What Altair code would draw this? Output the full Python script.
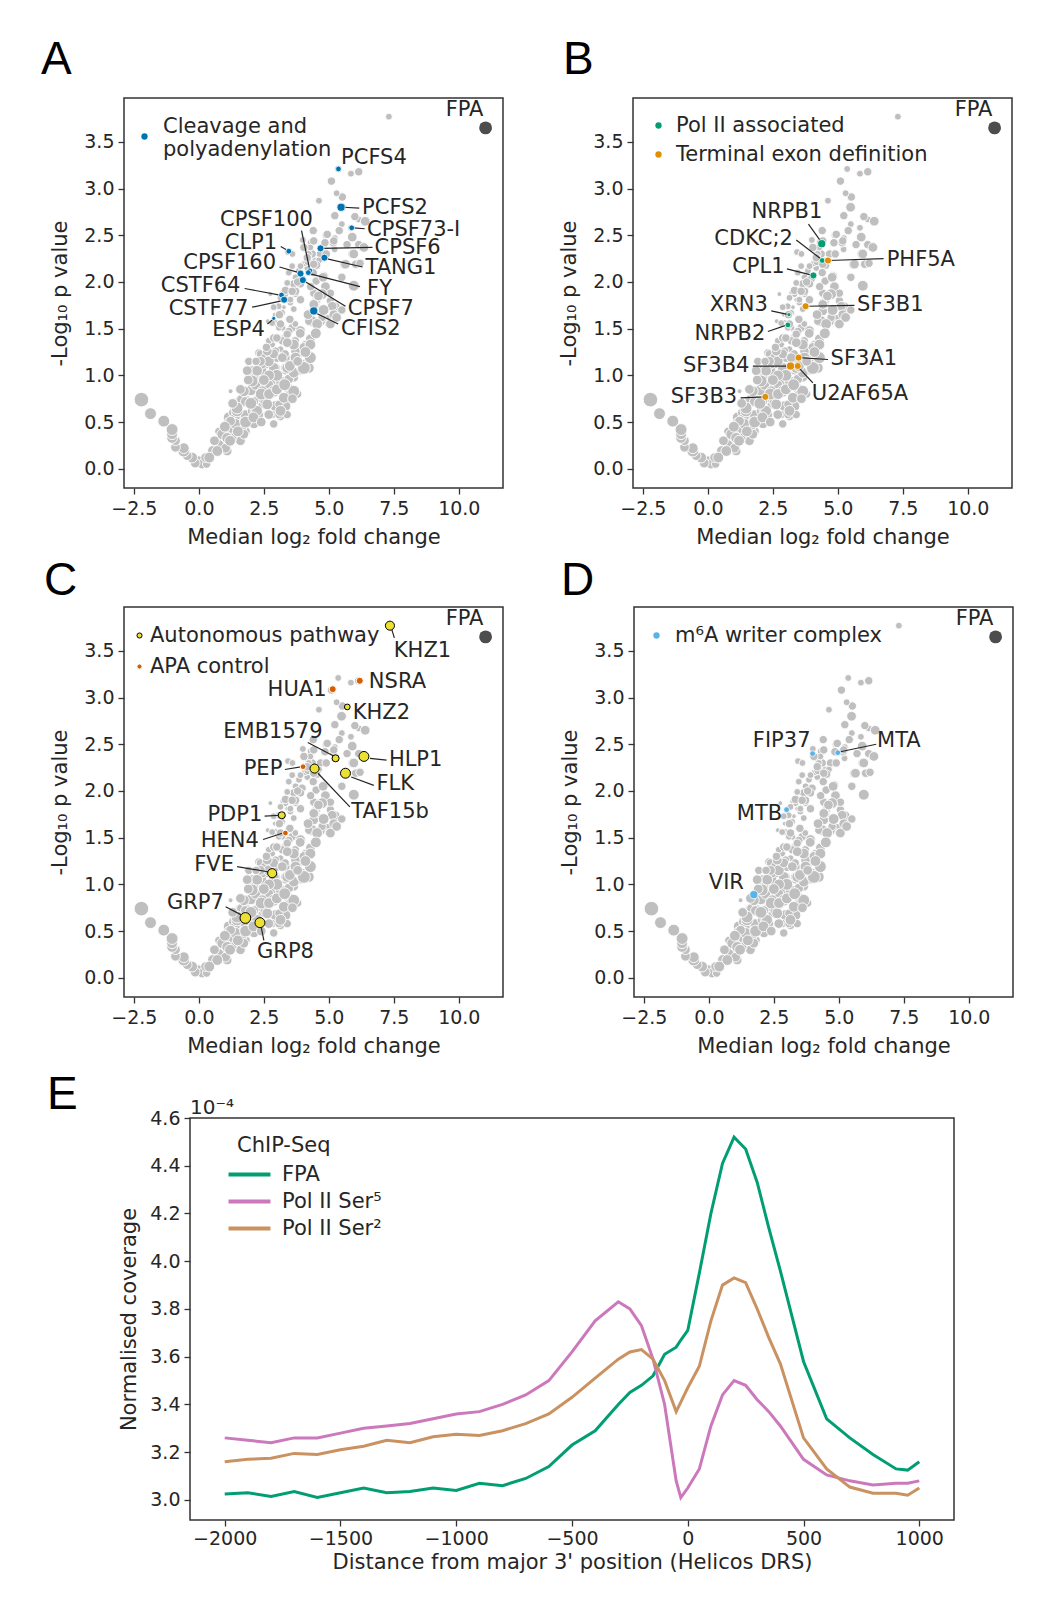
import altair as alt
import pandas as pd

FONT = "DejaVu Sans"
LETTER_FONT = "Liberation Sans"
INK = "#262626"

# ---------------- background proteins: median log2 FC, -log10 p, peptide count
bg_fc = [7.31, 5.36, 5.85, 6.15, 5.10, 4.62, 5.52, 5.49, 5.23, 6.15, 6.40, 5.50, 5.85, 4.87, 5.23, 5.90,
         6.31, 6.15, 5.22, 5.92, 5.60, 5.96, 4.33, 4.10, 4.36, 4.68, 4.49, 4.23, 4.62, 4.81, 4.51, 4.17,
         3.85, 4.08, 3.46, 3.72, 3.43, 3.59, 3.91, 4.29, 2.75, 3.33, 3.72, 3.52, 3.21, 3.40, 3.27, 2.92,
         2.65, 2.95, 3.21, 3.59, 3.27, 3.65, 2.82, 3.14, 4.49, 4.62, 4.42, 5.06, 5.23, 4.97, 4.36, 5.06,
         4.74, 4.29, 4.10, 4.28, 3.97, 4.23, 3.74, 3.71, 3.46, 3.08, 2.82, 3.71, 4.23, 4.48, 4.74, 5.00,
         5.13, 3.33, 3.01, 3.32, 2.69, 2.31, 2.69, 3.65, 3.91, 3.33, 2.95, 2.95, 2.56, 2.37, 2.18, 2.05,
         2.43, 2.12, 2.31, 2.56, 2.69, 3.33, 2.95, 3.14, 2.82, 2.44, 2.31, 3.08, 2.31, 1.86, 1.41, 1.60,
         1.22, 1.54, 1.79, 1.15, 1.03, 0.77, 1.09, 0.90, 1.03, 1.15, 1.35, 1.47, 1.73, 1.40, 1.78, 1.92,
         2.05, 0.54, 0.19, 0.00, 0.13, -0.14, -0.26, -0.45, -0.58, -0.58, -0.90, -0.90, -1.03, -1.03,
         -1.03, -1.35, -1.86, -2.21, 0.30, 0.85, 1.60, 2.05, 2.60, 3.50, 3.80,
         1.28, 1.47, 1.66, 1.35, 0.90, 0.77, 0.26, 2.00, 2.18, 2.44, 2.56, 2.88, 3.14, 3.46, 3.65, 3.97,
         3.72, 4.04, 2.95, 3.21, 2.56, 2.43, 2.24, 2.88, 3.33, 3.52, 3.33, 2.69, 2.18, 1.92, 1.66, 1.28,
         1.03, 1.79, 2.11, 3.08, 3.40,
         4.20, 4.53, 4.40, 4.78, 3.97, 3.65, 3.33, 3.72, 3.91, 4.42, 4.87, 5.06, 6.03, 5.17, 4.85, 3.52,
         3.07, 3.20, 3.65,
         2.05, 1.73, 1.47, 1.41, 1.09, 0.71, 2.24, 2.69, 2.88, 3.21, 3.40, 3.72, 4.04, 4.29, 3.65, 4.29,
         3.91, 4.55, 5.19, 5.06, 4.42, 4.74, 5.96, 5.64, 5.96, 6.35, 5.19, 4.94, 4.42, 4.04, 4.17, 4.42,
         3.91, 3.59, 3.40, 3.14, 2.88, 3.14, 3.40, 2.88, 2.63, 2.37, 1.86, 2.24, 2.63, 3.14, 3.27, 3.65,
         2.88, 2.12, 1.73, 1.22,
         1.20, 1.50, 1.80, 2.10, 2.40, 2.00, 2.40, 2.70, 3.00, 3.30, 3.60, 3.00, 2.70, 2.50, 3.50, 3.80,
         4.10, 3.40, 3.90, 4.50, 4.80, 4.60, 5.30, 5.50, 4.20, 3.10, 3.50, 1.00, 0.60, 0.40, 1.30, 1.60,
         1.90, 2.20, 2.60, 3.00,
         4.40, 4.90, 5.40, 5.70, 6.00, 5.30, 4.00, 3.60, 3.80, 4.30, 5.50, 6.20]
bg_p = [3.77, 3.21, 3.16, 3.18, 3.08, 2.87, 2.91, 2.80, 2.71, 2.67, 2.65, 2.62, 2.58, 2.50, 2.47, 2.48,
        2.37, 2.40, 2.35, 2.30, 2.19, 1.96, 2.42, 2.35, 2.30, 2.30, 2.22, 2.30, 2.23, 2.06, 2.01, 2.15,
        2.12, 2.20, 2.10, 2.05, 2.32, 2.17, 2.17, 2.37, 1.87, 1.87, 1.87, 1.78, 1.89, 1.81, 1.73, 1.65,
        1.58, 1.56, 1.51, 1.51, 1.40, 1.31, 1.33, 1.28, 1.78, 1.71, 1.69, 1.80, 1.73, 1.60, 1.58, 1.53,
        1.58, 1.39, 1.33, 1.21, 1.12, 1.08, 1.20, 1.37, 1.47, 1.51, 1.56, 1.55, 1.58, 1.76, 1.62, 1.55,
        1.74, 1.19, 1.19, 1.23, 1.37, 1.24, 1.12, 0.98, 1.05, 1.05, 1.08, 0.92, 1.12, 1.23, 0.96, 1.05,
        1.05, 0.97, 0.83, 0.87, 0.90, 0.73, 0.67, 0.56, 0.58, 0.69, 0.58, 0.58, 0.76, 0.73, 0.58, 0.73,
        0.83, 0.48, 0.40, 0.55, 0.33, 0.40, 0.19, 0.33, 0.40, 0.49, 0.60, 0.67, 0.72, 0.55, 0.58, 1.15,
        0.85, 0.19, 0.08, 0.08, 0.05, 0.06, 0.12, 0.14, 0.19, 0.22, 0.23, 0.30, 0.33, 0.37,
        0.42, 0.51, 0.59, 0.74, 0.05, 0.25, 0.30, 0.62, 0.72, 0.85, 0.80,
        0.49, 0.62, 0.74, 0.42, 0.37, 0.26, 0.12, 0.84, 0.90, 0.83, 0.72, 0.83, 0.94, 0.96, 1.03, 1.08,
        1.26, 1.30, 1.26, 1.37, 1.19, 1.12, 1.05, 1.08, 1.08, 0.80, 0.67, 0.58, 0.62, 0.51, 0.44, 0.33,
        0.22, 0.72, 0.72, 0.69, 0.58,
        2.22, 2.18, 2.10, 2.05, 2.03, 1.98, 1.91, 1.90, 1.81, 1.88, 1.95, 1.88, 2.19, 2.42, 2.42, 1.81,
        1.74, 1.67, 1.71,
        0.94, 0.83, 0.65, 0.48, 0.33, 0.19, 1.05, 1.15, 1.23, 1.19, 1.08, 1.19, 1.08, 1.19, 1.33, 1.33,
        1.48, 1.55, 1.65, 1.55, 1.76, 1.87, 1.96, 2.19, 2.30, 2.37, 2.44, 2.51, 2.44, 2.37, 2.26, 2.19,
        1.98, 1.90, 1.99, 1.83, 1.73, 1.55, 1.44, 1.40, 1.26, 1.15, 1.05, 0.62, 0.69, 0.62, 0.76, 0.83,
        0.48, 0.48, 0.37, 0.51,
        0.30, 0.40, 0.50, 0.55, 0.50, 0.70, 0.80, 0.80, 0.85, 0.90, 0.75, 1.00, 1.00, 0.95, 1.10, 1.15,
        1.25, 1.35, 1.45, 1.45, 1.70, 1.85, 1.62, 1.70, 1.65, 1.65, 1.60, 0.45, 0.30, 0.12, 0.70, 0.85,
        0.95, 1.15, 1.30, 1.40,
        2.55, 2.30, 2.55, 2.40, 2.70, 2.95, 2.45, 2.30, 2.00, 1.95, 2.05, 2.20]
bg_n = [2, 2, 2, 3, 3, 2, 3, 4, 3, 2, 4, 2, 2, 2, 2, 4,
        4, 3, 2, 4, 4, 4, 3, 2, 3, 3, 3, 2, 2, 4, 3, 2,
        2, 2, 2, 2, 2, 2, 2, 2, 1, 2, 2, 2, 1, 1, 1, 1,
        1, 2, 2, 3, 2, 3, 2, 2, 4, 3, 4, 3, 5, 4, 5, 2,
        3, 4, 3, 4, 4, 5, 6, 3, 3, 2, 2, 2, 3, 3, 3, 3,
        4, 4, 4, 3, 2, 3, 4, 4, 3, 3, 4, 6, 4, 3, 5, 4,
        4, 4, 4, 4, 4, 4, 5, 3, 3, 3, 4, 3, 4, 4, 7, 5,
        1, 5, 4, 5, 5, 3, 4, 4, 4, 5, 5, 4, 5, 4, 4, 3,
        4, 5, 4, 5, 4, 4, 5, 4, 6, 5, 4, 4, 5, 5,
        6, 6, 6, 9, 3, 4, 4, 4, 4, 5, 3,
        6, 6, 5, 5, 5, 4, 4, 5, 5, 5, 5, 6, 5, 4, 5, 5,
        4, 4, 3, 3, 4, 4, 4, 5, 4, 4, 5, 4, 5, 4, 4, 4,
        4, 4, 4, 3, 3,
        3, 3, 3, 4, 3, 3, 3, 3, 3, 3, 4, 3, 3, 3, 3, 2,
        2, 2, 2,
        6, 5, 6, 5, 5, 5, 5, 5, 4, 4, 5, 5, 7, 6, 5, 5,
        4, 5, 4, 4, 4, 5, 5, 4, 4, 4, 3, 3, 3, 3, 3, 3,
        3, 3, 2, 2, 2, 3, 3, 3, 4, 4, 4, 5, 5, 5, 5, 6,
        3, 4, 4, 4,
        5, 5, 6, 5, 4, 6, 6, 5, 5, 6, 4, 6, 5, 5, 5, 4,
        5, 4, 4, 5, 5, 4, 4, 3, 4, 3, 3, 5, 4, 5, 4, 4,
        4, 3, 3, 3,
        3, 3, 3, 3, 3, 2, 2, 2, 3, 3, 3, 3]

fpa_fc, fpa_p, fpa_n = [11.03], [3.65], [7]

# ---------------- highlighted proteins per panel
A_names = ["PCFS4", "PCFS2", "CPSF73-I", "CPSF6", "TANG1", "CPSF100", "CLP1", "CPSF160", "FY",
           "CSTF64", "CSTF77", "ESP4", "CPSF7", "CFIS2"]
A_fc = [5.37, 5.47, 5.88, 4.68, 4.83, 4.27, 3.46, 3.91, 4.21, 3.18, 3.28, 2.88, 4.00, 4.42]
A_p = [3.21, 2.80, 2.58, 2.36, 2.26, 2.12, 2.33, 2.09, 2.10, 1.86, 1.81, 1.61, 2.02, 1.69]
A_n = [2, 4, 2, 3, 3, 2, 2, 3, 2, 2, 3, 1, 3, 4]
A_group = ["Cleavage and polyadenylation"] * 14

B_names = ["NRPB1", "CDKC;2", "CPL1", "XRN3", "NRPB2",
           "PHF5A", "SF3B1", "SF3A1", "SF3B4", "U2AF65A", "SF3B3"]
B_fc = [4.38, 4.40, 4.06, 3.12, 3.08, 4.62, 3.76, 3.49, 3.18, 3.46, 2.21]
B_p = [2.41, 2.23, 2.07, 1.65, 1.54, 2.23, 1.74, 1.19, 1.10, 1.10, 0.77]
B_n = [4, 2, 3, 1, 2, 3, 3, 3, 4, 3, 3]
B_group = ["Pol II associated"] * 5 + ["Terminal exon definition"] * 6

C_names = ["KHZ1", "KHZ2", "EMB1579", "HLP1", "FLK", "TAF15b", "PDP1", "FVE", "GRP7", "GRP8",
           "HUA1", "NSRA", "PEP", "HEN4"]
C_fc = [7.35, 5.71, 5.26, 6.35, 5.64, 4.45, 3.19, 2.82, 1.79, 2.35, 5.15, 6.19, 4.01, 3.33]
C_p = [3.77, 2.90, 2.35, 2.37, 2.19, 2.24, 1.74, 1.12, 0.64, 0.59, 3.09, 3.18, 2.26, 1.55]
C_n = [5, 2, 3, 6, 6, 5, 3, 5, 7, 6, 3, 3, 2, 2]
C_group = ["Autonomous pathway"] * 10 + ["APA control"] * 4

D_names = ["FIP37", "MTA", "MTB", "VIR"]
D_fc = [3.99, 4.96, 2.99, 1.73]
D_p = [2.40, 2.41, 1.80, 0.89]
D_n = [2, 2, 2, 4]
D_group = ["m⁶A writer complex"] * 4

# ---------------- annotation layout (label anchor, alignment, leader line)
A_labels = [
    ("PCFS4", 5.47, 3.33, "left", None),
    ("PCFS2", 6.28, 2.79, "left", (5.55, 2.80, 6.17, 2.79)),
    ("CPSF73-I", 6.47, 2.56, "left", (5.95, 2.58, 6.38, 2.57)),
    ("CPSF6", 6.76, 2.36, "left", (4.75, 2.36, 6.68, 2.37)),
    ("TANG1", 6.41, 2.15, "left", (4.90, 2.25, 6.30, 2.16)),
    ("CPSF100", 2.60, 2.66, "center", (3.95, 2.55, 4.25, 2.15)),
    ("CLP1", 3.01, 2.42, "right", (3.15, 2.38, 3.40, 2.34)),
    ("CPSF160", 2.97, 2.20, "right", (3.10, 2.16, 3.85, 2.10)),
    ("FY", 6.47, 1.92, "left", (6.20, 1.95, 4.25, 2.09)),
    ("CSTF64", 1.60, 1.96, "right", (1.76, 1.93, 3.12, 1.86)),
    ("CSTF77", 1.90, 1.71, "right", (2.05, 1.73, 3.22, 1.80)),
    ("ESP4", 2.54, 1.49, "right", (2.64, 1.55, 2.85, 1.60)),
    ("CPSF7", 5.73, 1.71, "left", (5.64, 1.74, 4.05, 2.01)),
    ("CFIS2", 5.47, 1.50, "left", (5.36, 1.55, 4.48, 1.67)),
]
B_labels = [
    ("NRPB1", 3.04, 2.75, "center", (3.87, 2.62, 4.36, 2.43)),
    ("CDKC;2", 3.27, 2.46, "right", (3.40, 2.45, 4.38, 2.24)),
    ("CPL1", 2.95, 2.16, "right", (3.04, 2.14, 4.03, 2.07)),
    ("PHF5A", 6.88, 2.24, "left", (4.65, 2.23, 6.76, 2.25)),
    ("SF3B1", 5.74, 1.75, "left", (3.79, 1.74, 5.64, 1.75)),
    ("XRN3", 2.31, 1.75, "right", (2.44, 1.69, 3.10, 1.65)),
    ("NRPB2", 2.21, 1.44, "right", (2.31, 1.47, 3.05, 1.54)),
    ("SF3A1", 4.72, 1.17, "left", (3.52, 1.19, 4.62, 1.17)),
    ("SF3B4", 1.60, 1.10, "right", (1.73, 1.10, 3.15, 1.10)),
    ("U2AF65A", 4.00, 0.80, "left", (3.50, 1.08, 4.04, 0.92)),
    ("SF3B3", 1.13, 0.77, "right", (1.26, 0.76, 2.18, 0.77)),
]
C_labels = [
    ("KHZ1", 7.50, 3.50, "left", (7.42, 3.73, 7.52, 3.64)),
    ("NSRA", 6.54, 3.17, "left", None),
    ("HUA1", 4.91, 3.08, "right", None),
    ("KHZ2", 5.92, 2.84, "left", None),
    ("EMB1579", 2.85, 2.63, "center", (4.19, 2.52, 5.22, 2.37)),
    ("HLP1", 7.31, 2.33, "left", (6.58, 2.35, 7.22, 2.33)),
    ("FLK", 6.83, 2.08, "left", (5.86, 2.15, 6.73, 2.06)),
    ("PEP", 3.21, 2.24, "right", (3.31, 2.23, 3.98, 2.26)),
    ("TAF15b", 5.86, 1.77, "left", (4.58, 2.19, 5.81, 1.83)),
    ("PDP1", 2.44, 1.74, "right", (2.53, 1.73, 3.15, 1.74)),
    ("HEN4", 2.31, 1.46, "right", (2.47, 1.48, 3.24, 1.55)),
    ("FVE", 1.35, 1.21, "right", (1.47, 1.19, 2.75, 1.13)),
    ("GRP7", 0.96, 0.80, "right", (1.03, 0.76, 1.72, 0.66)),
    ("GRP8", 2.24, 0.28, "left", (2.40, 0.54, 2.50, 0.40)),
]
D_labels = [
    ("FIP37", 3.91, 2.53, "right", None),
    ("MTA", 6.47, 2.54, "left", (5.06, 2.42, 6.44, 2.50)),
    ("MTB", 2.82, 1.75, "right", None),
    ("VIR", 1.35, 1.01, "right", None),
]
FPA_label = ("FPA", 10.22, 3.84, "center", None)

# ---------------- panel E: ChIP-seq metagene profiles (x 1e-4)
E_pos = [-2000, -1900, -1800, -1700, -1600, -1500, -1400, -1300, -1200, -1100, -1000, -900, -800,
         -700, -600, -500, -400, -300, -250, -200, -150, -100, -50, -30, 0, 50, 100, 150, 200, 250,
         300, 350, 400, 500, 600, 700, 800, 900, 950, 1000]
E_fpa = [3.025, 3.03, 3.015, 3.035, 3.01, 3.03, 3.05, 3.03, 3.035, 3.05, 3.04, 3.07, 3.06,
         3.09, 3.14, 3.23, 3.29, 3.40, 3.45, 3.48, 3.52, 3.61, 3.64, 3.67, 3.71, 3.95, 4.20, 4.41,
         4.52, 4.47, 4.33, 4.14, 3.96, 3.58, 3.34, 3.26, 3.19, 3.13, 3.125, 3.16]
E_ser5 = [3.26, 3.25, 3.24, 3.26, 3.26, 3.28, 3.30, 3.31, 3.32, 3.34, 3.36, 3.37, 3.40,
          3.44, 3.50, 3.62, 3.75, 3.83, 3.80, 3.73, 3.59, 3.40, 3.08, 3.01, 3.05, 3.13, 3.31, 3.44,
          3.50, 3.48, 3.42, 3.37, 3.31, 3.17, 3.105, 3.08, 3.063, 3.07, 3.07, 3.08]
E_ser2 = [3.16, 3.17, 3.175, 3.195, 3.19, 3.21, 3.225, 3.25, 3.24, 3.265, 3.275, 3.27, 3.29,
          3.32, 3.36, 3.43, 3.51, 3.59, 3.62, 3.63, 3.59, 3.50, 3.37, 3.41, 3.47, 3.56, 3.75, 3.90,
          3.93, 3.91, 3.80, 3.68, 3.57, 3.26, 3.13, 3.054, 3.028, 3.028, 3.02, 3.05]
E_series = ["FPA", "Pol II Ser⁵", "Pol II Ser²"]
E_colors = ["#029E73", "#CC78BC", "#CA9161"]

# ---------------- shared scales / axes
XS = alt.Scale(domain=[-2.88, 11.7], nice=False, zero=False)
YS = alt.Scale(domain=[-0.206, 3.97], nice=False, zero=False)
SS = alt.Scale(domain=[0, 10], range=[0, 235])
SS_HI = alt.Scale(domain=[0, 10], range=[0, 165])
XAX = alt.Axis(values=[-2.5, 0, 2.5, 5, 7.5, 10], format=".1f", title="Median log₂ fold change",
               titlePadding=8, labelPadding=5)
YAX = alt.Axis(values=[0, 0.5, 1, 1.5, 2, 2.5, 3, 3.5], format=".1f", title="-Log₁₀ p value",
               titlePadding=13)

bg_df = pd.DataFrame({"fc": bg_fc, "p": bg_p, "n": bg_n})
fpa_df = pd.DataFrame({"fc": fpa_fc, "p": fpa_p, "n": fpa_n})


def X(f):
    return alt.X(f, type="quantitative", scale=XS, axis=XAX)


def Y(f):
    return alt.Y(f, type="quantitative", scale=YS, axis=YAX)


def panel(letter, dx, toff, names, fc, p, n, group, domain, colors, labels, leg, strokes=None):
    hi = pd.DataFrame({"name": names, "fc": fc, "p": p, "n": n, "group": group})
    labs = labels + [FPA_label]
    lab_df = pd.DataFrame([{"name": a, "tx": b, "ty": c, "align": d} for a, b, c, d, _ in labs])
    line_df = pd.DataFrame([{"x1": e[0], "y1": e[1], "x2": e[2], "y2": e[3]}
                            for _, _, _, _, e in labs if e is not None])
    base = alt.layer(
        alt.Chart(bg_df).mark_circle(fill="#bfbfbf", stroke="white", strokeWidth=0.9, opacity=1)
        .encode(X("fc"), Y("p"), size=alt.Size("n:Q", scale=SS, legend=None)),
        alt.Chart(fpa_df).mark_circle(fill="#4d4d4d", opacity=1, strokeWidth=0)
        .encode(X("fc"), Y("p"), size=alt.Size("n:Q", scale=SS, legend=None)),
    )
    layers = [base]
    if len(line_df):
        layers.append(alt.Chart(line_df).mark_rule(color=INK, strokeWidth=1.2)
                      .encode(X("x1"), Y("y1"), x2="x2:Q", y2="y2:Q"))
    legend = alt.Legend(**leg)
    enc = dict(color=alt.Color("group:N", scale=alt.Scale(domain=domain, range=colors),
                               legend=legend),
               size=alt.Size("n:Q", scale=SS_HI, legend=None))
    if strokes is not None:
        enc["stroke"] = alt.Stroke("group:N", scale=alt.Scale(domain=domain, range=strokes),
                                   legend=legend)
        mk = alt.Chart(hi).mark_circle(opacity=1, strokeWidth=1)
    else:
        mk = alt.Chart(hi).mark_circle(opacity=1, stroke="white", strokeWidth=0.8)
    layers.append(mk.encode(X("fc"), Y("p"), **enc))
    for al in ["left", "right", "center"]:
        sub = lab_df[lab_df["align"] == al]
        if len(sub):
            layers.append(alt.Chart(sub).mark_text(align=al, baseline="middle", font=FONT,
                                                   fontSize=21, color=INK)
                          .encode(X("tx"), Y("ty"), text="name:N"))
    return alt.layer(*layers).resolve_scale(size="independent").properties(
        width=379, height=390,
        title=alt.TitleParams(letter, anchor="start", frame="group", dx=dx, offset=toff,
                              fontSize=46, font=LETTER_FONT, fontWeight="normal", color="black"))


def leg(x, y, off, size=40, stroke_w=0, multiline=False, row_pad=7):
    d = dict(title=None, orient="none", legendX=x, legendY=y, padding=0, labelFont=FONT,
             labelFontSize=21, labelColor=INK, labelLimit=600, symbolSize=size,
             symbolType="circle", rowPadding=row_pad, labelOffset=off,
             symbolStrokeWidth=stroke_w, symbolOpacity=1)
    if multiline:
        d["labelExpr"] = ("datum.label == 'Cleavage and polyadenylation' ? "
                          "['Cleavage and', 'polyadenylation'] : datum.label")
        d["labelBaseline"] = "bottom"
    return d


pA = panel("A", -83, 14, A_names, A_fc, A_p, A_n, A_group, ["Cleavage and polyadenylation"],
           ["#0173B2"], A_labels, leg(10, 28, 8, multiline=True))
pB = panel("B", -70, 14, B_names, B_fc, B_p, B_n, B_group,
           ["Pol II associated", "Terminal exon definition"], ["#029E73", "#DE8F05"],
           B_labels, leg(15, 17, 7))
pC = panel("C", -80, 2, C_names, C_fc, C_p, C_n, C_group, ["Autonomous pathway", "APA control"],
           ["#ECE133", "#D55E00"], C_labels, leg(5, 18, 0, size=26, stroke_w=1, row_pad=9),
           strokes=["black", "white"])
pD = panel("D", -73, 2, D_names, D_fc, D_p, D_n, D_group, ["m⁶A writer complex"], ["#56B4E9"],
           D_labels, leg(12, 18, 8))

# ---------------- panel E
rows = []
for s, vals in zip(E_series, [E_fpa, E_ser5, E_ser2]):
    for x, v in zip(E_pos, vals):
        rows.append({"pos": x, "cov": v, "series": s})
e_df = pd.DataFrame(rows)

e_lines = alt.Chart(e_df).mark_line(strokeWidth=3).encode(
    x=alt.X("pos:Q", scale=alt.Scale(domain=[-2150, 1150], nice=False, zero=False),
            axis=alt.Axis(values=[-2000, -1500, -1000, -500, 0, 500, 1000], format="d",
                          title="Distance from major 3' position (Helicos DRS)", labelPadding=3,
                          titlePadding=3)),
    y=alt.Y("cov:Q", scale=alt.Scale(domain=[2.916, 4.6], nice=False, zero=False),
            axis=alt.Axis(values=[3.0, 3.2, 3.4, 3.6, 3.8, 4.0, 4.2, 4.4, 4.6], format=".1f",
                          title="Normalised coverage", titlePadding=10, labelPadding=4)),
    color=alt.Color("series:N", sort=E_series,
                    scale=alt.Scale(domain=E_series, range=E_colors),
                    legend=alt.Legend(title="\u00a0\u00a0ChIP-Seq", orient="none", legendX=47,
                                      legendY=17, padding=0, symbolType="M-2,0L2,0",
                                      symbolStrokeWidth=4, symbolSize=440, labelOffset=20,
                                      rowPadding=4, titlePadding=6, titleFont=FONT,
                                      titleFontSize=21, titleFontWeight="normal",
                                      titleColor=INK, labelFont=FONT, labelFontSize=21,
                                      labelColor=INK, labelLimit=400)),
    detail="series:N",
)
e_exp = alt.Chart(pd.DataFrame({"t": ["10⁻⁴"]})).mark_text(
    align="left", baseline="alphabetic", font=FONT, fontSize=20, color=INK
).encode(x=alt.value(0), y=alt.value(-4), text="t:N")

pE = alt.layer(e_lines, e_exp).properties(width=764, height=402)

# narrow holder for the panel letter "E", aligned under panels A/C
e_letter = alt.Chart(pd.DataFrame({"v": [0]})).mark_point(opacity=0).encode(
    x=alt.X("v:Q", axis=None), y=alt.Y("v:Q", axis=None)
).properties(
    width=1, height=1, view=alt.ViewBackground(stroke=None),
    title=alt.TitleParams("E", anchor="start", frame="group", dx=-77, offset=-3, fontSize=46,
                          font=LETTER_FONT, fontWeight="normal", color="black"))

IND = dict(color="independent", stroke="independent", x="independent", y="independent")

row1 = alt.hconcat(pA, pB, spacing=54).resolve_scale(**IND)
row2 = alt.hconcat(pC, pD, spacing=55).resolve_scale(**IND)
top = alt.vconcat(row1, row2, spacing=9).resolve_scale(**IND)
rowE = alt.hconcat(e_letter, pE, spacing=-10).resolve_scale(**IND)

chart = alt.vconcat(top, rowE, spacing=14).resolve_scale(**IND).properties(
    padding={"left": 32, "top": 28, "right": 5, "bottom": 10}
).configure_view(stroke="#333333", strokeWidth=1.5).configure_axis(
    grid=False, domain=False, tickColor="#333333", tickSize=6, tickWidth=1.3,
    labelFont=FONT, labelFontSize=19, labelColor=INK, titleFont=FONT, titleFontSize=21,
    titleFontWeight="normal", titleColor=INK, labelPadding=4
)

chart.save("out.html", embed_options={"renderer": "svg", "actions": False})
